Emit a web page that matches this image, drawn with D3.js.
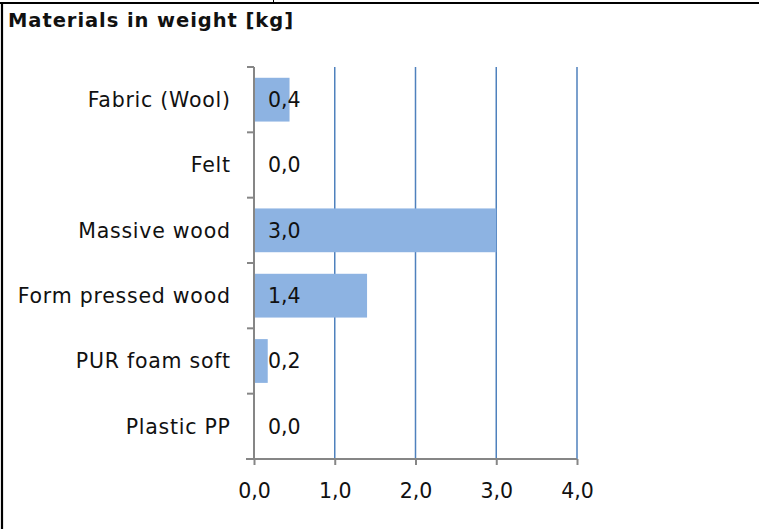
<!DOCTYPE html>
<html><head><meta charset="utf-8">
<script src="https://cdn.jsdelivr.net/npm/d3@7"></script>
<style>html,body{margin:0;padding:0;background:#fff;}svg{display:block;}</style>
</head><body>
<svg id="c" width="759" height="529"></svg>
<script>
const categories = ["Fabric (Wool)", "Felt", "Massive wood", "Form pressed wood", "PUR foam soft", "Plastic PP"];
const values = [0.44, 0.0, 3.0, 1.4, 0.17, 0.0];
const xTicks = [0, 1, 2, 3, 4];
const title = "Materials in weight [kg]";

const svg = d3.select("#c");
const font = "'DejaVu Sans', sans-serif";
const fmt = v => d3.format(".1f")(v).replace(".", ",");

// compute letter spacing so a sample string reaches a target width
function spacingFor(str, size, weight, target) {
  const tmp = svg.append("text").attr("font-family",font).attr("font-size",size).attr("font-weight",weight).text(str);
  const w = tmp.node().getComputedTextLength();
  tmp.remove();
  return (target - w) / str.length;
}
const lsLabel = spacingFor("Form pressed wood", 20.5, "normal", 213);
const lsTitle = spacingFor(title, 19.5, "bold", 286);

// frame
svg.append("line").attr("x1",0).attr("x2",759).attr("y1",3).attr("y2",3).attr("stroke","#000").attr("stroke-width",2.2);
svg.append("line").attr("x1",2).attr("x2",2).attr("y1",3).attr("y2",529).attr("stroke","#000").attr("stroke-width",2.2);
svg.append("line").attr("x1",273.5).attr("x2",273.5).attr("y1",0).attr("y2",3).attr("stroke","#000").attr("stroke-width",1);

svg.append("text").attr("x",8).attr("y",27).text(title)
  .attr("font-family",font).attr("font-weight","bold").attr("font-size",19.5)
  .attr("letter-spacing",lsTitle).attr("fill","#111");

const x = d3.scaleLinear().domain([0,4]).range([254,577]);
const y = d3.scaleBand().domain(categories).range([67,459]).paddingInner(0.33).paddingOuter(0.165);

// gridlines
svg.append("g").selectAll("line").data(xTicks.filter(d=>d>0)).join("line")
  .attr("x1",d=>x(d)).attr("x2",d=>x(d)).attr("y1",67).attr("y2",459)
  .attr("stroke","#4f81bd").attr("stroke-width",1.5);

// bars
svg.append("g").selectAll("rect").data(categories).join("rect")
  .attr("x",x(0)).attr("y",d=>y(d))
  .attr("width",(d,i)=>x(values[i])-x(0)).attr("height",y.bandwidth())
  .attr("fill","#8db3e2");

// y axis
const yStep = (459-67)/categories.length;
const yAx = svg.append("g");
yAx.append("line").attr("x1",254).attr("x2",254).attr("y1",67).attr("y2",459).attr("stroke","#868686").attr("stroke-width",2);
yAx.selectAll("line.t").data(d3.range(categories.length+1)).join("line").attr("class","t")
  .attr("x1",247).attr("x2",254).attr("y1",i=>67+i*yStep).attr("y2",i=>67+i*yStep)
  .attr("stroke","#868686").attr("stroke-width",2);
yAx.selectAll("text").data(categories).join("text")
  .attr("x",230 + lsLabel).attr("y",d=>y(d)+y.bandwidth()/2).attr("dy","0.36em")
  .attr("text-anchor","end").attr("font-family",font).attr("font-size",20.5)
  .attr("letter-spacing",lsLabel).attr("fill","#111").text(d=>d);

// x axis
const xAxis = d3.axisBottom(x).tickValues(xTicks).tickSize(6).tickSizeOuter(0).tickFormat(fmt);
const gx = svg.append("g").attr("transform","translate(0,459)").call(xAxis);
gx.select(".domain").attr("stroke","#868686").attr("stroke-width",2).attr("d","M246,0H577");
gx.selectAll(".tick line").attr("stroke","#868686").attr("stroke-width",2);
gx.selectAll(".tick text").attr("y",24).attr("dy","0.71em").attr("font-family",font).attr("font-size",20.5)
  .attr("fill","#111");

// value labels
svg.append("g").selectAll("text").data(categories).join("text")
  .attr("x",268).attr("y",d=>y(d)+y.bandwidth()/2).attr("dy","0.36em")
  .attr("font-family",font).attr("font-size",20.5)
  .attr("fill","#111").text((d,i)=>fmt(values[i]));
</script>
</body></html>
